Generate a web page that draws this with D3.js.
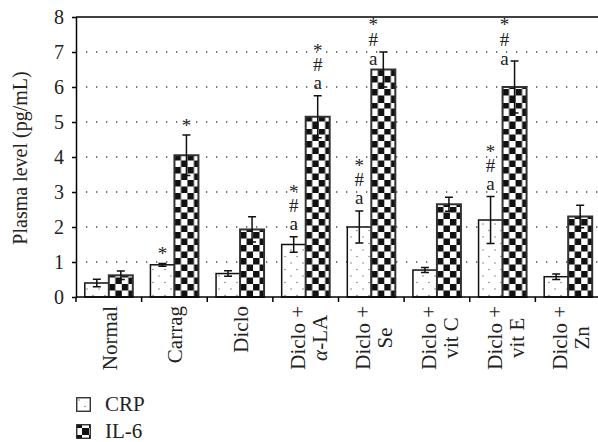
<!DOCTYPE html>
<html>
<head>
<meta charset="utf-8">
<script src="https://cdn.jsdelivr.net/npm/d3@7"></script>
<style>
	body { margin: 0; background: #fff; }
	svg { display: block; font-family: "Liberation Serif", "Times New Roman", serif; }
	.grid line { stroke: #444; stroke-width: 1.3; stroke-dasharray: 1.3 8.7; }
	.axis path, .axis line { stroke: #000; stroke-width: 1.5; }
	.axis text { font-size: 20px; fill: #222; font-family: "Liberation Serif", serif; }
	.lab text { font-size: 21px; }
	.err { stroke: #111; stroke-width: 1.5; fill: none; }
	.mark { font-size: 19px; fill: #222; text-anchor: middle; }
</style>
</head>
<body>
<script>
// groups (label lines) and values
const groups = ["Normal", "Carrag", "Diclo", "Diclo + α-LA", "Diclo + Se", "Diclo + vit C", "Diclo + vit E", "Diclo + Zn"];
const labelLines = [["Normal"], ["Carrag"], ["Diclo"], ["Diclo +", "α-LA"], ["Diclo +", "Se"], ["Diclo +", "vit C"], ["Diclo +", "vit E"], ["Diclo +", "Zn"]];
const series = ["CRP", "IL-6"];

const crpMean = [0.40, 0.92, 0.67, 1.50, 2.00, 0.77, 2.20, 0.58];
const crpErr  = [0.11, 0.04, 0.08, 0.22, 0.46, 0.07, 0.67, 0.08];
const il6Mean = [0.62, 4.05, 1.93, 5.15, 6.50, 2.65, 6.00, 2.30];
const il6Err  = [0.12, 0.58, 0.36, 0.60, 0.50, 0.20, 0.74, 0.32];

// significance marks, top to bottom
const crpMarks = [[], ["*"], [], ["*", "#", "a"], ["*", "#", "a"], [], ["*", "#", "a"], []];
const il6Marks = [[], ["*"], [], ["*", "#", "a"], ["*", "#", "a"], [], ["*", "#", "a"], []];

const yTicks = [0, 1, 2, 3, 4, 5, 6, 7, 8];

const W = 598, H = 442;
const m = { left: 76, right: 601, top: 17, bottom: 297 };

const svg = d3.select("body").append("svg")
	.attr("width", W)
	.attr("height", H);

// scales
const x = d3.scaleBand().domain(groups).range([m.left, m.right]).paddingInner(0).paddingOuter(0);
const x1 = d3.scaleBand().domain(series).range([0, x.bandwidth()]).paddingInner(0).paddingOuter(0.367);
const y = d3.scaleLinear().domain([0, 8]).range([m.bottom, m.top]);

// flatten
const data = [];
groups.forEach((g, i) => {
	data.push({ g, i, s: "CRP", v: crpMean[i], e: crpErr[i], marks: crpMarks[i] });
	data.push({ g, i, s: "IL-6", v: il6Mean[i], e: il6Err[i], marks: il6Marks[i] });
});

// patterns
const defs = svg.append("defs");
const cell = 6.5;

defs.selectAll(".checker")
	.data(data.filter((d) => d.s === "IL-6")).enter()
	.append("pattern")
		.attr("class", "checker")
		.attr("id", (d) => "chk" + d.i)
		.attr("patternUnits", "userSpaceOnUse")
		.attr("x", (d) => x(d.g) + x1(d.s))
		.attr("y", m.bottom)
		.attr("width", cell * 2)
		.attr("height", cell * 2)
	.call((p) => {
		p.append("rect").attr("width", cell * 2).attr("height", cell * 2).attr("fill", "#fff");
		p.append("rect").attr("width", cell).attr("height", cell).attr("fill", "#111");
		p.append("rect").attr("x", cell).attr("y", cell).attr("width", cell).attr("height", cell).attr("fill", "#111");
	});

const legendChk = defs.append("pattern")
	.attr("id", "chkLegend")
	.attr("patternUnits", "userSpaceOnUse")
	.attr("x", m.left).attr("y", 424)
	.attr("width", 14).attr("height", 14);
legendChk.append("rect").attr("width", 14).attr("height", 14).attr("fill", "#fff");
legendChk.append("rect").attr("width", 7).attr("height", 7).attr("fill", "#111");
legendChk.append("rect").attr("x", 7).attr("y", 7).attr("width", 7).attr("height", 7).attr("fill", "#111");

const dots = defs.append("pattern")
	.attr("id", "dots")
	.attr("patternUnits", "userSpaceOnUse")
	.attr("width", 12).attr("height", 13);
dots.append("rect").attr("width", 12).attr("height", 13).attr("fill", "#fff");
dots.append("circle").attr("cx", 3).attr("cy", 3).attr("r", 0.7).attr("fill", "#666");
dots.append("circle").attr("cx", 9).attr("cy", 9.5).attr("r", 0.7).attr("fill", "#666");

// dotted grid
svg.append("g").attr("class", "grid")
	.selectAll("line")
		.data(yTicks.filter((t) => t > 0 && t < 8)).enter()
	.append("line")
		.attr("x1", m.left + 10).attr("x2", m.right)
		.attr("y1", (d) => y(d)).attr("y2", (d) => y(d));

// top border
svg.append("line")
	.attr("x1", m.left).attr("x2", m.right)
	.attr("y1", y(8)).attr("y2", y(8))
	.attr("stroke", "#000").attr("stroke-width", 1.5);

// bars
const bars = svg.append("g").attr("class", "bars");
bars.selectAll("rect")
	.data(data).enter()
	.append("rect")
		.attr("x", (d) => x(d.g) + x1(d.s))
		.attr("y", (d) => y(d.v))
		.attr("width", x1.bandwidth())
		.attr("height", (d) => y(0) - y(d.v))
		.attr("fill", (d) => d.s === "CRP" ? "url(#dots)" : `url(#chk${d.i})`)
		.attr("stroke", (d) => d.s === "CRP" ? "#111" : "#333")
		.attr("stroke-width", (d) => d.s === "CRP" ? 1.5 : 2);

// error bars
const cap = 4;
const errs = svg.append("g").attr("class", "err")
	.selectAll("g")
		.data(data).enter()
	.append("g")
		.attr("transform", (d) => `translate(${x(d.g) + x1(d.s) + x1.bandwidth() / 2},0)`);
errs.append("path")
	.attr("d", (d) => {
		const hi = y(d.v + d.e), lo = y(d.v - d.e);
		return `M0,${hi}V${lo}M${-cap},${hi}H${cap}M${-cap},${lo}H${cap}`;
	});

// significance marks: one text per stack, lines as tspans
const step = { "*": 14.5, "#": 17.5 };
data.filter((d) => d.marks.length).forEach((d) => {
	let cx = x(d.g) + x1(d.s) + x1.bandwidth() / 2;
	const n = d.marks.length;
	const last = d.marks[n - 1];
	let base = y(d.v + d.e) - (last === "*" ? 3 : 7);
	// baselines from bottom to top
	const bases = [base];
	for (let k = n - 2; k >= 0; k--) {
		base -= step[d.marks[k + 1] === "a" ? "#" : "*"];
		bases.unshift(base);
	}
	// keep the stack inside the frame
	if (bases[0] < y(8) + 14) {
		const shift = y(8) + 14 - bases[0];
		for (let k = 0; k < n; k++) bases[k] += shift + (k === 2 ? 2 : 0);
		cx -= 10;
	}
	svg.append("text")
		.attr("class", "mark")
		.selectAll("tspan")
			.data(d.marks).enter()
		.append("tspan")
			.attr("x", cx)
			.attr("y", (s, k) => bases[k])
			.text((s) => s);
});

// y axis
svg.append("g")
	.attr("class", "axis")
	.attr("transform", `translate(${m.left},0)`)
	.call(d3.axisLeft(y).tickValues(yTicks).tickFormat(d3.format("d")).tickSize(4).tickSizeOuter(0).tickPadding(8));

// x axis with ticks at category edges
const xAxis = svg.append("g").attr("class", "axis");
xAxis.append("line")
	.attr("x1", m.left).attr("x2", m.right)
	.attr("y1", y(0)).attr("y2", y(0));
xAxis.selectAll(".edge")
	.data(groups).enter()
	.append("line")
		.attr("class", "edge")
		.attr("x1", (d) => x(d)).attr("x2", (d) => x(d))
		.attr("y1", y(0)).attr("y2", y(0) + 5);

const labels = xAxis.selectAll(".lab")
	.data(groups).enter()
	.append("g")
		.attr("class", "lab")
		.attr("transform", (d, i) => {
			const n = labelLines[i].length;
			const cx = x(d) + x.bandwidth() / 2 + (n === 1 ? 8 : -1);
			return `translate(${cx},306) rotate(-90)`;
		});

labels.each(function(d, i) {
	const lines = labelLines[i];
	const t = d3.select(this).append("text");
	const first = t.append("tspan")
		.attr("text-anchor", "end")
		.attr("x", 0).attr("y", 0)
		.text(lines[0]);
	if (lines.length > 1) {
		const len = first.node().getComputedTextLength();
		const second = t.append("tspan")
			.attr("text-anchor", "middle")
			.attr("x", -len / 2)
			.attr("y", 22);
		if (lines[1].startsWith("α")) {
			second.append("tspan").attr("font-style", "italic").text("α");
			second.append("tspan").text(lines[1].slice(1));
		} else {
			second.text(lines[1]);
		}
	}
});

// y label
svg.append("text")
	.attr("transform", `translate(27,${(m.top + m.bottom) / 2 + 1}) rotate(-90)`)
	.attr("text-anchor", "middle")
	.style("font-size", "20px")
	.style("fill", "#222")
	.text("Plasma level (pg/mL)");

// legend
const legend = svg.append("g").attr("class", "legend")
	.selectAll("g")
		.data(series).enter()
	.append("g")
		.attr("transform", (d, i) => `translate(${m.left},${397 + i * 27})`);

legend.append("rect")
	.attr("x", 0.75).attr("y", 0.75)
	.attr("width", 13.5).attr("height", 13.5)
	.attr("fill", (d) => d === "CRP" ? "url(#dots)" : "url(#chkLegend)")
	.attr("stroke", "#222")
	.attr("stroke-width", 1.3);

legend.append("text")
	.attr("x", 29)
	.attr("y", 13.5)
	.style("font-size", "21px")
	.style("fill", "#222")
	.text((d) => d);
</script>
</body>
</html>
